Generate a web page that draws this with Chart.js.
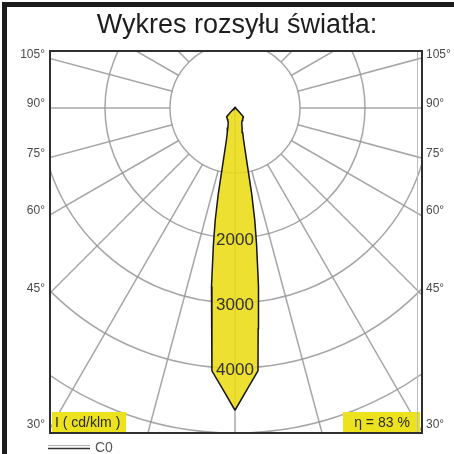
<!DOCTYPE html>
<html>
<head>
<meta charset="utf-8">
<script src="https://cdn.jsdelivr.net/npm/chart.js@4.4.1/dist/chart.umd.min.js"></script>
<style>
    html, body { margin: 0; padding: 0; background: #fff; }
    #wrap { position: relative; width: 454px; height: 454px; }
</style>
</head>
<body>
<div id="wrap"><canvas id="chart" width="454" height="454"></canvas></div>
<script>
console.log('Loading: light distribution chart');

/* Chart values (cd/klm, gamma measured from nadir) */
const titleText = 'Wykres rozsyłu światła:';
const gammaDeg = [0, 2.5, 5, 6, 7.5, 9, 10, 11, 12.5, 15, 17.5, 20, 25, 30, 35, 40, 44, 47, 55, 70, 90, 120, 150, 180];
const cdC0 = [4650, 4330, 4060, 3410, 2770, 2120, 1750, 1350, 830, 510, 395, 320, 245, 223, 206, 193, 185, 100, 30, 15, 10, 10, 10, 10];

/* Polar grid */
const ringValues = [1000, 2000, 3000, 4000, 5000];
const ringTickValues = [2000, 3000, 4000];
const spokeAngles = [0, 15, 30, 45, 60, 75, 90, 105, 120, 135, 150, 165, 180,
                     195, 210, 225, 240, 255, 270, 285, 300, 315, 330, 345];
const sideAngles = [105, 90, 75, 60, 45, 30];

/* Texts */
const unitLabel = 'I ( cd/klm )';
const effLabel = 'η = 83 %';
const legendLabel = 'C0';

/* Axis limits (cd/klm) */
const xLimits = [-2846, 2877];
const yLimits = [-5000, 877];

/* Colours */
const gridColor = 'rgba(150, 150, 155, 0.85)';
const beamFill = 'rgba(234, 220, 20, 0.88)';
const labelYellow = '#ece21e';
const textColor = '#333333';

/* Assigning functions */
function toRad(deg) {
    return deg * Math.PI / 180;
}

function beamPoints() {
    const points = [];
    // C0 half-plane, then C180 back up (same readings, mirrored)
    for (let i = 0; i < gammaDeg.length; i++) {
        const a = toRad(gammaDeg[i]);
        points.push({ x: cdC0[i] * Math.sin(a), y: -cdC0[i] * Math.cos(a) });
    }
    for (let i = gammaDeg.length - 1; i >= 0; i--) {
        const a = toRad(gammaDeg[i]);
        points.push({ x: -cdC0[i] * Math.sin(a), y: -cdC0[i] * Math.cos(a) });
    }
    return points;
}

const polarGrid = {
    id: 'polarGrid',
    beforeDatasetsDraw(chart) {
        const { ctx, chartArea: area, scales: { x, y } } = chart;
        const cx = x.getPixelForValue(0);
        const cy = y.getPixelForValue(0);

        ctx.save();
        ctx.beginPath();
        ctx.rect(area.left, area.top, area.right - area.left, area.bottom - area.top);
        ctx.clip();
        ctx.strokeStyle = gridColor;
        ctx.lineWidth = 1.5;

        ringValues.forEach(v => {
            const rx = x.getPixelForValue(v) - cx;
            const ry = cy - y.getPixelForValue(v);
            ctx.beginPath();
            ctx.ellipse(cx, cy, rx, ry, 0, 0, Math.PI * 2);
            ctx.stroke();
        });

        spokeAngles.forEach(g => {
            const a = toRad(g);
            const r0 = g === 0 ? 0 : ringValues[0];
            const r1 = 12000;
            ctx.beginPath();
            ctx.moveTo(x.getPixelForValue(r0 * Math.sin(a)), y.getPixelForValue(-r0 * Math.cos(a)));
            ctx.lineTo(x.getPixelForValue(r1 * Math.sin(a)), y.getPixelForValue(-r1 * Math.cos(a)));
            ctx.stroke();
        });
        ctx.restore();
    },
    afterDatasetsDraw(chart) {
        const { ctx, scales: { x, y } } = chart;
        ctx.save();
        ctx.font = '17px "Liberation Sans", Arial, sans-serif';
        ctx.fillStyle = textColor;
        ctx.textAlign = 'center';
        ctx.textBaseline = 'middle';
        ringTickValues.forEach(v => {
            ctx.fillText(String(v), x.getPixelForValue(0), y.getPixelForValue(-v) + 2);
        });
        ctx.restore();
    },
    afterDraw(chart) {
        const { ctx, chartArea: area, scales: { y } } = chart;
        ctx.save();

        /* yellow info boxes */
        ctx.fillStyle = labelYellow;
        ctx.fillRect(area.left + 2, area.bottom - 21, 74, 21);
        ctx.fillRect(area.right - 79, area.bottom - 21, 77, 21);
        ctx.font = '14px "Liberation Sans", Arial, sans-serif';
        ctx.fillStyle = '#2a2a2a';
        ctx.textBaseline = 'middle';
        ctx.textAlign = 'left';
        ctx.fillText(unitLabel, area.left + 5, area.bottom - 10);
        ctx.textAlign = 'center';
        ctx.fillText(effLabel, area.right - 40, area.bottom - 10);

        /* plot frame */
        ctx.strokeStyle = '#bcbcbc';
        ctx.lineWidth = 1;
        ctx.beginPath();
        ctx.moveTo(area.right - 4.5, area.top);
        ctx.lineTo(area.right - 4.5, area.bottom);
        ctx.stroke();
        ctx.strokeStyle = '#2f2f2f';
        ctx.lineWidth = 2;
        ctx.strokeRect(area.left, area.top, area.right - area.left, area.bottom - area.top);

        /* gamma labels where the spokes leave the frame */
        ctx.font = '12px "Liberation Sans", Arial, sans-serif';
        ctx.fillStyle = '#4a4a4a';
        ctx.textBaseline = 'middle';
        sideAngles.forEach(g => {
            const a = toRad(g);
            const t = -xLimits[0] / Math.sin(a);
            let py = y.getPixelForValue(-t * Math.cos(a)) - 4;
            py = Math.max(area.top + 2, Math.min(area.bottom - 8, py));
            ctx.textAlign = 'right';
            ctx.fillText(g + '°', area.left - 5, py);
            ctx.textAlign = 'left';
            ctx.fillText(g + '°', area.right + 4, py);
        });

        /* title */
        ctx.font = '27px "Liberation Sans", Arial, sans-serif';
        ctx.fillStyle = '#1e1e1e';
        ctx.textAlign = 'center';
        ctx.textBaseline = 'alphabetic';
        ctx.fillText(titleText, 237, 33);

        /* legend */
        ctx.strokeStyle = '#aaaaaa';
        ctx.lineWidth = 1;
        ctx.beginPath();
        ctx.moveTo(48, 445.5);
        ctx.lineTo(90, 445.5);
        ctx.stroke();
        ctx.strokeStyle = '#333333';
        ctx.lineWidth = 1.5;
        ctx.beginPath();
        ctx.moveTo(48, 448.5);
        ctx.lineTo(90, 448.5);
        ctx.stroke();
        ctx.font = '14px "Liberation Sans", Arial, sans-serif';
        ctx.fillStyle = '#555555';
        ctx.textAlign = 'left';
        ctx.textBaseline = 'middle';
        ctx.fillText(legendLabel, 95, 448);

        /* outer frame bars */
        ctx.fillStyle = '#1c1c1c';
        ctx.fillRect(2, 2, 452, 5);
        ctx.fillRect(2, 2, 5, 452);

        ctx.restore();
    }
};

/********************* *
 * Start of the script *
 * *********************/

new Chart('chart', {
    type: 'line',
    data: {
        datasets: [{
            label: legendLabel,
            data: beamPoints(),
            borderColor: '#151515',
            borderWidth: 1.5,
            backgroundColor: beamFill,
            fill: 'shape',
            pointRadius: 0,
            tension: 0
        }]
    },
    options: {
        responsive: false,
        animation: false,
        layout: { padding: { left: 50, top: 51, right: 32, bottom: 21 } },
        plugins: {
            legend: { display: false },
            title: { display: false },
            tooltip: { enabled: false }
        },
        scales: {
            x: { type: 'linear', display: false, min: xLimits[0], max: xLimits[1] },
            y: { type: 'linear', display: false, min: yLimits[0], max: yLimits[1] }
        }
    },
    plugins: [polarGrid]
});
</script>
</body>
</html>
